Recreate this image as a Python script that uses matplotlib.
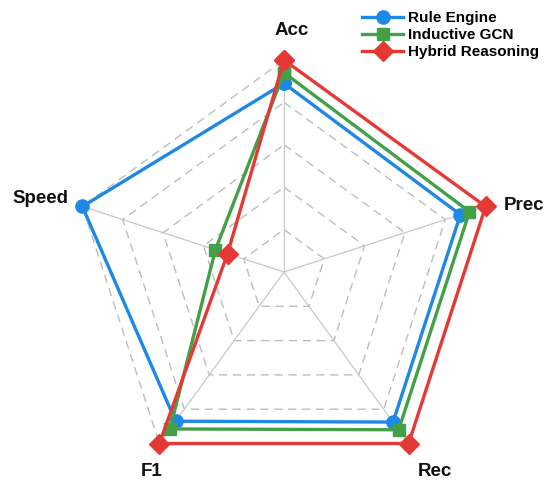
import numpy as np
import matplotlib
matplotlib.use('Agg')
import matplotlib.pyplot as plt

plt.rcParams['font.family'] = ['Liberation Sans', 'DejaVu Sans']

categories = ['Acc', 'Prec', 'Rec', 'F1', 'Speed']
rule_engine = [0.89, 0.875, 0.875, 0.87, 1.0]
inductive_gcn = [0.94, 0.92, 0.92, 0.915, 0.34]
hybrid = [1.0, 1.0, 1.0, 1.0, 0.28]
series_names = ['Rule Engine', 'Inductive GCN', 'Hybrid Reasoning']
levels = [0.2, 0.4, 0.6, 0.8, 1.0]

colors = ['#1E88E5', '#43A047', '#E53935']
markers = ['o', 's', 'D']
msizes = [9.5, 8, 10]

n = len(categories)
angles = np.linspace(0, 2 * np.pi, n, endpoint=False)
ang_closed = np.concatenate([angles, angles[:1]])

fig = plt.figure(figsize=(5.5, 4.86), dpi=100)
# centre at (284, 272) px, radius 212 px
ax = fig.add_axes([72 / 550, 2 / 486, 424 / 550, 424 / 486], projection='polar')
ax.set_theta_zero_location('N')
ax.set_theta_direction(-1)
ax.set_ylim(0, 1)
ax.grid(False)
ax.spines['polar'].set_visible(False)
ax.set_xticks([])
ax.set_yticks([])
ax.patch.set_visible(False)

# grid rings
for lv in levels:
    ax.plot(ang_closed, [lv] * (n + 1), color='#bdbdbd', lw=1.0,
            ls=(0, (6, 4)), zorder=1, clip_on=False)
# spokes
for a in angles:
    ax.plot([a, a], [0, 1], color='#c8c8c8', lw=0.9, zorder=1, clip_on=False)

for vals, name, c, m, ms in zip([rule_engine, inductive_gcn, hybrid],
                                series_names, colors, markers, msizes):
    v = list(vals) + [vals[0]]
    ax.plot(ang_closed, v, color=c, lw=2.4, marker=m, markersize=ms,
            label=name, zorder=3, clip_on=False)

# axis labels (angle in degrees clockwise from top, radius)
label_pos = [(1.9, 1.142), (74.4, 1.175), (142.9, 1.18), (213.5, 1.13), (286.8, 1.2)]
for cat, (deg, r) in zip(categories, label_pos):
    ax.text(np.deg2rad(deg), r, cat, ha='center', va='center',
            fontsize=13.5, fontweight='bold', color='#111111')

fig.legend(loc='upper left', bbox_to_anchor=(362 / 550, 1 - 11 / 486),
           frameon=False, prop={'size': 11, 'weight': 'bold'},
           handlelength=2.7, handletextpad=0.3, labelspacing=0.2,
           borderpad=0, borderaxespad=0)

fig.savefig('out.png', dpi=100)
